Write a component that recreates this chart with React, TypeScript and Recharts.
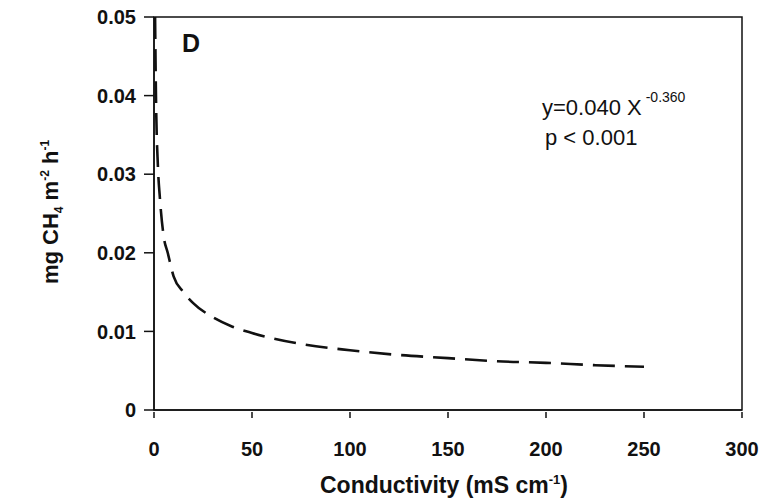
import { LineChart, Line, XAxis, YAxis, ReferenceArea, Label } from "recharts";

const conductivity = [0.55, 1, 2, 3, 5, 7, 10, 15, 20, 30, 40, 50, 75, 100, 125, 150, 175, 200, 225, 250];
const methaneFlux = [0.05, 0.04, 0.031, 0.027, 0.022, 0.02, 0.017, 0.015, 0.0136, 0.0118, 0.0106, 0.0098, 0.0084, 0.0076, 0.007, 0.0066, 0.0062, 0.006, 0.0057, 0.0055];

const xTicks = [0, 50, 100, 150, 200, 250, 300];
const yTicks = [0, 0.01, 0.02, 0.03, 0.04, 0.05];

const data = conductivity.map((c, i) => ({ x: c, y: methaneFlux[i] }));

const font = "'Liberation Sans', Arial, sans-serif";

function XTick(props: any) {
  const { x, y, payload } = props;
  return (
    <g>
      <line x1={x} y1={y} x2={x} y2={y - 6} stroke="#111" strokeWidth={1.5} />
      <text x={x} y={y + 38} textAnchor="middle" fontSize={20} fontWeight="bold" fill="#111" fontFamily={font}>
        {payload.value}
      </text>
    </g>
  );
}

export default function App() {
  return (
    <div style={{ position: "absolute", left: 0, top: 0, background: "#fff" }}>
      <LineChart width={764} height={501} data={data} margin={{ top: 17, right: 22, left: 0, bottom: 0 }}>
        <XAxis
          type="number"
          dataKey="x"
          domain={[0, 300]}
          ticks={xTicks}
          height={91}
          tickLine={false}
          tick={<XTick />}
          axisLine={{ stroke: "#111", strokeWidth: 1.5 }}
        >
          <Label
            content={({ viewBox }: any) => (
              <text x={viewBox.x + 166} y={viewBox.y + 83} fontSize={23} fontWeight="bold" fill="#111" fontFamily={font}>
                Conductivity (mS cm
                <tspan dy={-9} fontSize={13}>-1</tspan>
                <tspan dy={9}>)</tspan>
              </text>
            )}
          />
        </XAxis>
        <YAxis
          type="number"
          domain={[0, 0.05]}
          ticks={yTicks}
          width={154}
          tickSize={10}
          tickMargin={8}
          tickFormatter={(v: number) => (v === 0 ? "0" : v.toFixed(2))}
          tick={{ fontSize: 20, fontWeight: "bold", fill: "#111", fontFamily: font }}
          tickLine={{ stroke: "#111", strokeWidth: 1.5 }}
          axisLine={{ stroke: "#111", strokeWidth: 1.5 }}
        >
          <Label
            content={({ viewBox }: any) => {
              const cx = viewBox.x + 58;
              const cy = 212;
              return (
                <text x={cx} y={cy} transform={`rotate(-90 ${cx} ${cy})`} textAnchor="middle" fontSize={22} fontWeight="bold" fill="#111" fontFamily={font}>
                  mg CH
                  <tspan dy={5} fontSize={12}>4</tspan>
                  <tspan dy={-5}> m</tspan>
                  <tspan dy={-9} fontSize={12}>-2</tspan>
                  <tspan dy={9}> h</tspan>
                  <tspan dy={-9} fontSize={12}>-1</tspan>
                </text>
              );
            }}
          />
        </YAxis>
        <ReferenceArea x1={0} x2={300} y1={0} y2={0.05} fill="none" stroke="#111" strokeWidth={1.5} ifOverflow="visible">
          <Label
            content={({ viewBox }: any) => (
              <g fontFamily={font} fill="#111">
                <text x={viewBox.x + 28} y={viewBox.y + 35} fontSize={25} fontWeight="bold">D</text>
                <text x={viewBox.x + 388} y={viewBox.y + 98} fontSize={22}>
                  y=0.040 X
                  <tspan dx={4} dy={-13} fontSize={14}>-0.360</tspan>
                </text>
                <text x={viewBox.x + 391} y={viewBox.y + 128} fontSize={22}>p &lt; 0.001</text>
              </g>
            )}
          />
        </ReferenceArea>
        <Line
          type="monotone"
          dataKey="y"
          stroke="#111"
          strokeWidth={2.6}
          strokeDasharray="22 10"
          dot={false}
          isAnimationActive={false}
        />
      </LineChart>
    </div>
  );
}
